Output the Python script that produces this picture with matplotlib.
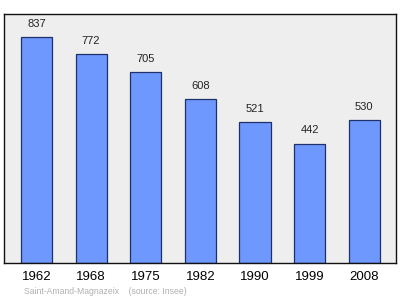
import matplotlib
matplotlib.use("Agg")
import matplotlib.pyplot as plt

plt.rcParams["font.family"] = ["Liberation Sans", "DejaVu Sans"]

years = ["1962", "1968", "1975", "1982", "1990", "1999", "2008"]
population = [837, 772, 705, 608, 521, 442, 530]
commune = "Saint-Amand-Magnazeix"
source = "(source: Insee)"

fig = plt.figure(figsize=(4.0, 2.99), dpi=100)
ax = fig.add_axes([4 / 400, 1 - 263 / 299, 392 / 400, 249 / 299])
ax.set_facecolor("#eeeeee")

x = range(len(years))
ax.bar(x, population, width=0.57, color="#6f98ff", edgecolor="#1f2f6a", linewidth=0.9)
for xi, v in zip(x, population):
    ax.text(xi, v + 30, str(v), ha="center", va="bottom", fontsize=8, color="#222222")

ax.set_xlim(-0.595, 6.58)
ax.set_ylim(0, 921)
ax.set_yticks([])
ax.set_xticks(list(x))
ax.set_xticklabels(years, fontsize=9.5)
ax.tick_params(axis="x", length=0, pad=6)
for s in ax.spines.values():
    s.set_color("#111111")
    s.set_linewidth(1.0)

fig.text(24 / 400, 1 - 292 / 299, commune + "    " + source,
         fontsize=6.2, color="#b0b0b0", va="center", ha="left")

fig.savefig("out.png", dpi=100)
